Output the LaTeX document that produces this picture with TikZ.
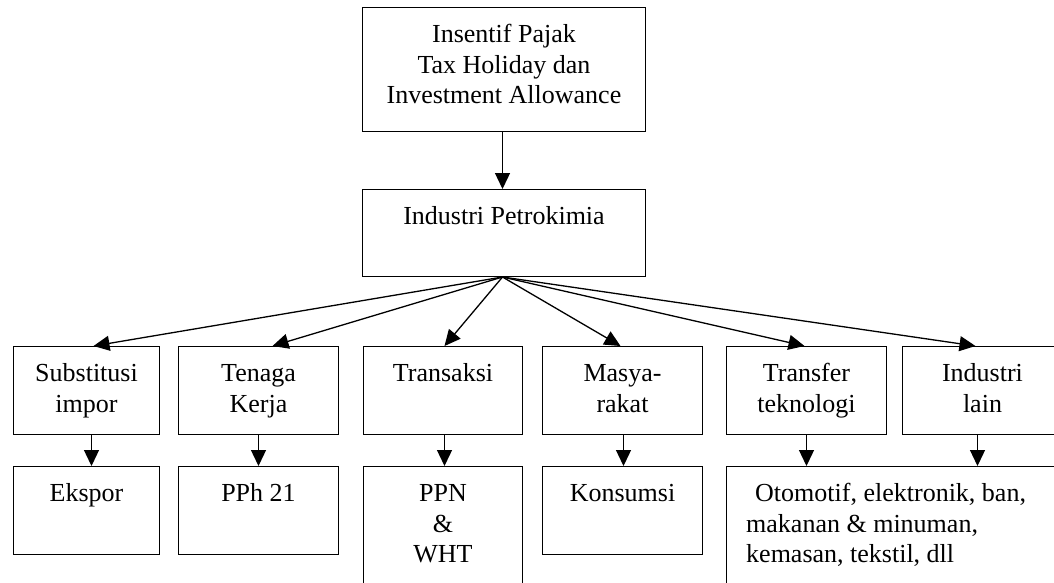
\documentclass[tikz,border=0pt]{standalone}
\usepackage{fontspec}
\setmainfont{Liberation Serif}
\usetikzlibrary{arrows.meta}
\begin{document}
\begin{tikzpicture}[x=1pt,y=-1pt,
  box/.style={draw, line width=1pt, inner sep=0pt, anchor=north west},
  lbl/.style={anchor=north, inner sep=0pt, align=center, font=\fontsize{26}{30.5}\selectfont},
  arr/.style={line width=1.3pt, -{Triangle[length=16pt,width=15pt]}}]
\useasboundingbox (0,0) rectangle (1054,582);

% top two levels
\node[box, minimum width=283pt, minimum height=124pt] (top) at (362,7) {};
\node[box, minimum width=283pt, minimum height=87pt] (mid) at (362,189) {};

% first row of effects
\node[box, minimum width=146pt, minimum height=88pt] (b1) at (13,346) {};
\node[box, minimum width=160pt, minimum height=88pt] (b2) at (178,346) {};
\node[box, minimum width=159pt, minimum height=88pt] (b3) at (363,346) {};
\node[box, minimum width=160pt, minimum height=88pt] (b4) at (542,346) {};
\node[box, minimum width=160pt, minimum height=88pt] (b5) at (726,346) {};
\node[box, minimum width=160pt, minimum height=88pt] (b6) at (902,346) {};

% second row
\node[box, minimum width=146pt, minimum height=88pt] (e1) at (13,466) {};
\node[box, minimum width=160pt, minimum height=88pt] (e2) at (178,466) {};
\node[box, minimum width=159pt, minimum height=140pt] (e3) at (363,466) {};
\node[box, minimum width=160pt, minimum height=88pt] (e4) at (542,466) {};
\node[box, minimum width=340pt, minimum height=140pt] (wide) at (726,466) {};

% texts
\node[lbl] (ttop) at ([yshift=-14pt]top.north) {\strut Insentif Pajak\\Tax Holiday dan\\Investment Allowance};
\node[lbl] (tmid) at ([yshift=-14pt]mid.north) {\strut Industri Petrokimia};
\node[lbl] (tb1) at ([yshift=-14pt]b1.north) {\strut Substitusi\\impor};
\node[lbl] (tb2) at ([yshift=-14pt]b2.north) {\strut Tenaga\\Kerja};
\node[lbl] (tb3) at ([yshift=-14pt]b3.north) {\strut Transaksi};
\node[lbl] (tb4) at ([yshift=-14pt]b4.north) {\strut Masya-\\rakat};
\node[lbl] (tb5) at ([yshift=-14pt]b5.north) {\strut Transfer\\teknologi};
\node[lbl] (tb6) at ([yshift=-14pt]b6.north) {\strut Industri\\lain};
\node[lbl] (te1) at ([yshift=-14pt]e1.north) {\strut Ekspor};
\node[lbl] (te2) at ([yshift=-14pt]e2.north) {\strut PPh 21};
\node[lbl] (te3) at ([yshift=-14pt]e3.north) {\strut PPN\\\&\\WHT};
\node[lbl] (te4) at ([yshift=-14pt]e4.north) {\strut Konsumsi};
\node[lbl, anchor=north west, align=left] (twide) at ([xshift=20pt,yshift=-14pt]wide.north west)
  {\strut\hspace*{9pt}Otomotif, elektronik, ban,\\makanan \& minuman,\\kemasan, tekstil, dll};

% connectors
\draw[arr] ([xshift=-1.5pt]top.south) -- ([xshift=-1.5pt]mid.north);
\draw[arr] ([xshift=-1.5pt]mid.south) -- ([xshift=7pt]b1.north);
\draw[arr] ([xshift=-1.5pt]mid.south) -- ([xshift=14pt]b2.north);
\draw[arr] ([xshift=-1.5pt]mid.south) -- ([xshift=1.5pt]b3.north);
\draw[arr] ([xshift=-1.5pt]mid.south) -- ([xshift=-2pt]b4.north);
\draw[arr] ([xshift=-1.5pt]mid.south) -- ([xshift=-2pt]b5.north);
\draw[arr] ([xshift=-1.5pt]mid.south) -- ([xshift=-7pt]b6.north);

\draw[arr] ([xshift=5pt]b1.south) -- ([xshift=5pt]e1.north);
\draw[arr] (b2.south) -- (e2.north);
\draw[arr] ([xshift=1.5pt]b3.south) -- ([xshift=1.5pt]e3.north);
\draw[arr] ([xshift=1pt]b4.south) -- ([xshift=1pt]e4.north);
\draw[arr] (b5.south) -- (b5.south |- wide.north);
\draw[arr] ([xshift=-5pt]b6.south) -- ([xshift=-5pt]b6.south |- wide.north);
\end{tikzpicture}
\end{document}
